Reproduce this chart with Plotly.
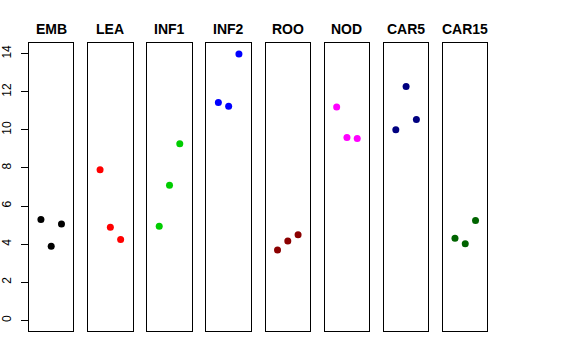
import plotly.graph_objects as go

categories = ["EMB", "LEA", "INF1", "INF2", "ROO", "NOD", "CAR5", "CAR15"]
values = {
    "EMB": [5.29, 3.89, 5.06],
    "LEA": [7.91, 4.89, 4.24],
    "INF1": [4.94, 7.09, 9.27],
    "INF2": [11.43, 11.24, 13.98],
    "ROO": [3.69, 4.17, 4.49],
    "NOD": [11.20, 9.60, 9.55],
    "CAR5": [10.00, 12.27, 10.54],
    "CAR15": [4.31, 4.02, 5.24],
}
colors = ["#000000", "#FF0000", "#00CD00", "#0000FF", "#8B0000", "#FF00FF", "#000080", "#006400"]
replicates = [1, 2, 3]
y_ticks = [0, 2, 4, 6, 8, 10, 12, 14]

W, H = 576, 360
left0, step, pw = 29.0, 59.15, 44.4
top_px, bot_px = 43.0, 331.0
title_px = 29.0

fig = go.Figure()
layout = dict(
    width=W, height=H, margin=dict(l=0, r=0, t=0, b=0, pad=0, autoexpand=False),
    paper_bgcolor="white", plot_bgcolor="white", showlegend=False,
    font=dict(family="Liberation Sans, Arial, sans-serif", color="black"),
)
annotations = []
for i, cat in enumerate(categories):
    n = "" if i == 0 else str(i + 1)
    fig.add_trace(go.Scatter(
        x=replicates, y=values[cat], mode="markers",
        marker=dict(color=colors[i], size=7),
        xaxis="x" + n, yaxis="y" + n, hoverinfo="x+y",
    ))
    l = left0 + i * step
    layout["xaxis" + n] = dict(
        domain=[l / W, (l + pw) / W], range=[-0.16, 4.16],
        showgrid=False, zeroline=False, showticklabels=False, ticks="",
        showline=True, mirror=True, linecolor="black", linewidth=1,
        anchor="y" + n, fixedrange=True, automargin=False,
    )
    ya = dict(
        domain=[1 - bot_px / H, 1 - top_px / H], range=[-0.56, 14.56],
        showgrid=False, zeroline=False,
        showline=True, mirror=True, linecolor="black", linewidth=1,
        anchor="x" + n, fixedrange=True, automargin=False,
    )
    if i == 0:
        ya.update(tickmode="array", tickvals=y_ticks, ticktext=[str(t) for t in y_ticks],
                  ticks="outside", ticklen=7, tickcolor="black", tickwidth=1,
                  tickangle=-90, tickfont=dict(size=12, color="black"),
                  ticklabelstandoff=5)
    else:
        ya.update(showticklabels=False, ticks="")
    layout["yaxis" + n] = ya
    annotations.append(dict(
        text="<b>" + cat + "</b>", x=(l + pw / 2) / W, y=1 - title_px / H,
        xref="paper", yref="paper", showarrow=False,
        xanchor="center", yanchor="middle",
        font=dict(size=14, color="black", family="Liberation Sans, Arial, sans-serif"),
    ))
layout["annotations"] = annotations
fig.update_layout(**layout)
fig.write_html("out.html", config={"displayModeBar": False},
               post_script="document.body.style.margin='0';document.body.style.overflow='hidden';")
